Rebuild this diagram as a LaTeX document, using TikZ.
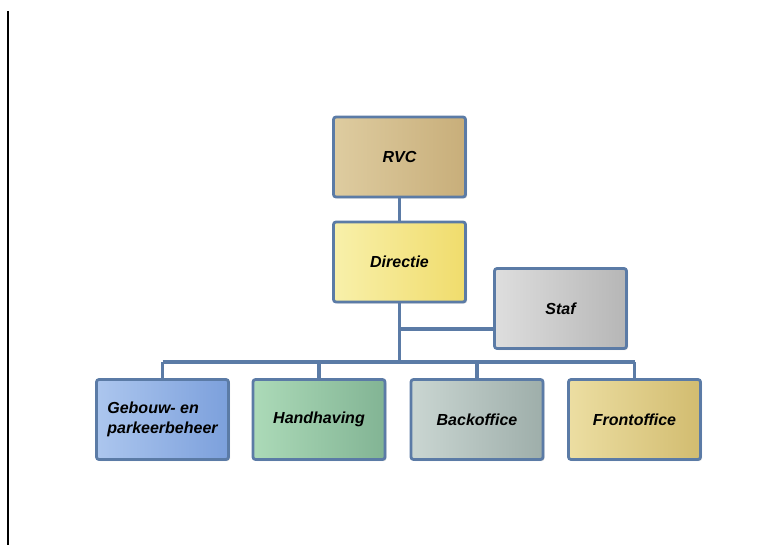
\documentclass[tikz,border=0pt]{standalone}
\usepackage{fontspec}
\setmainfont{Liberation Sans}
\usetikzlibrary{shadows}
\definecolor{edge}{HTML}{5B7BA6}
\definecolor{rvcA}{RGB}{222,204,160}\definecolor{rvcB}{RGB}{200,174,122}
\definecolor{dirA}{RGB}{248,240,170}\definecolor{dirB}{RGB}{240,220,108}
\definecolor{stA}{RGB}{222,222,222}\definecolor{stB}{RGB}{182,182,182}
\definecolor{gbA}{RGB}{172,198,238}\definecolor{gbB}{RGB}{124,160,220}
\definecolor{hhA}{RGB}{172,218,184}\definecolor{hhB}{RGB}{130,180,148}
\definecolor{boA}{RGB}{202,214,210}\definecolor{boB}{RGB}{158,174,170}
\definecolor{foA}{RGB}{236,222,162}\definecolor{foB}{RGB}{210,188,112}
\tikzset{
  orgbox/.style={draw=edge, line width=2.8pt, rounded corners=2.5pt,
    minimum width=132pt, minimum height=80pt, inner sep=2pt,
    font=\bfseries\itshape\fontsize{16}{20}\selectfont, align=left,
    drop shadow={shadow xshift=1.5pt, shadow yshift=-1.5pt, opacity=0.25}},
  conn/.style={draw=edge, line width=3.6pt},
}
\begin{document}
\begin{tikzpicture}[x=1pt,y=-1pt]
\useasboundingbox[fill=white] (0,0) rectangle (776,556);
\draw[line width=1.4pt] (8,11) -- (8,545);
\node[orgbox, left color=rvcA, right color=rvcB] (rvc) at (399.5,157) {RVC};
\node[orgbox, left color=dirA, right color=dirB] (dir) at (399.5,262) {Directie};
\node[orgbox, left color=stA, right color=stB] (staf) at (560.5,308.5) {Staf};
\node[orgbox, left color=gbA, right color=gbB] (geb) at (162.5,419.5) {Gebouw- en\\parkeerbeheer};
\node[orgbox, left color=hhA, right color=hhB] (hand) at (319,419.5) {Handhaving};
\node[orgbox, left color=boA, right color=boB] (back) at (477,419.5) {Backoffice};
\node[orgbox, left color=foA, right color=foB] (front) at (634.5,419.5) {Frontoffice};
\coordinate (hub) at (399.5,362);
\coordinate (sj) at (399.5,329);
\draw[conn] (rvc.south) -- (dir.north);
\draw[conn] (dir.south) -- (hub);
\draw[conn] (sj) -- (sj -| staf.west);
\draw[conn] (hub -| geb.north) -- (hub -| front.north);
\draw[conn] (hub -| geb.north) -- (geb.north);
\draw[conn] (hub -| hand.north) -- (hand.north);
\draw[conn] (hub -| back.north) -- (back.north);
\draw[conn] (hub -| front.north) -- (front.north);
\end{tikzpicture}
\end{document}
